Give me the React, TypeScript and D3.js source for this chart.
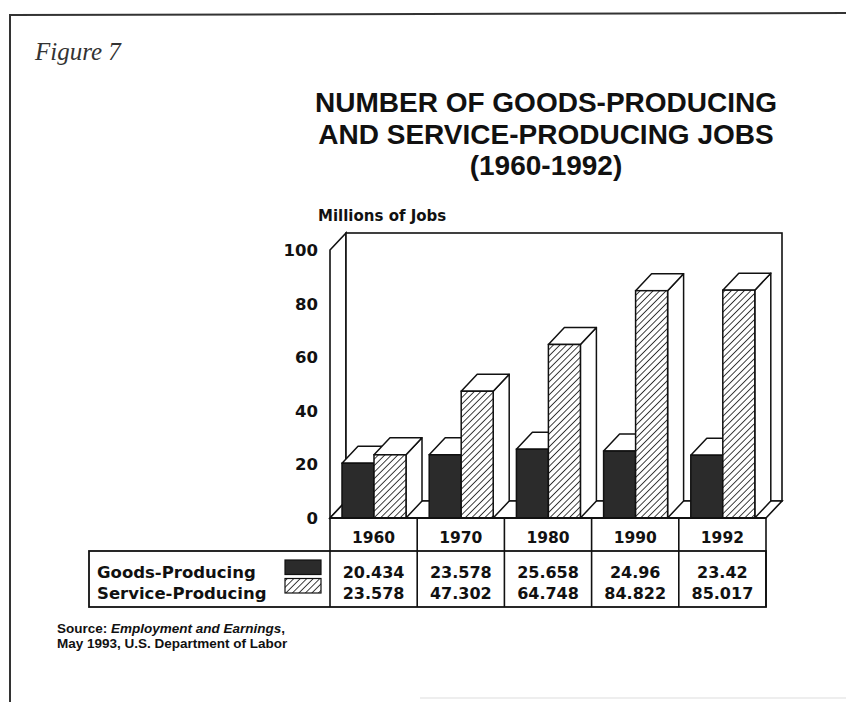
import React from "react";
import * as d3 from "d3";

const years = ["1960", "1970", "1980", "1990", "1992"];
const seriesNames = ["Goods-Producing", "Service-Producing"];
const goodsValues = [20.434, 23.578, 25.658, 24.96, 23.42];
const serviceValues = [23.578, 47.302, 64.748, 84.822, 85.017];
const yTicks = [0, 20, 40, 60, 80, 100];
const titleLines = ["NUMBER OF GOODS-PRODUCING", "AND SERVICE-PRODUCING JOBS", "(1960-1992)"];

const W = 846;
const H = 702;
const DX = 16;
const DY = -17;
const SANS = "'DejaVu Sans', sans-serif";

export default function App() {
  const y = d3.scaleLinear().domain([0, 100]).range([518, 250]);
  const x = d3.scaleBand<string>().domain(years).range([330, 766]).paddingInner(0).paddingOuter(0);
  const inner = d3.scaleBand<string>().domain(seriesNames).range([12, 76]).paddingInner(0);
  const bw = inner.bandwidth();
  const y0 = y(0);
  const yTop = y(100);
  const xL = x.range()[0];
  const xR = x.range()[1];

  const pts = (arr: [number, number][]) => arr.map((p) => p.join(",")).join(" ");

  const bar = (key: string, x0: number, v: number, fill: string) => {
    const yv = y(v);
    return (
      <g key={key}>
        <polygon
          points={pts([[x0 + bw, yv], [x0 + bw + DX, yv + DY], [x0 + bw + DX, y0 + DY], [x0 + bw, y0]])}
          fill="#fff" stroke="#111" strokeWidth={1.5} strokeLinejoin="round"
        />
        <polygon
          points={pts([[x0, yv], [x0 + bw, yv], [x0 + bw + DX, yv + DY], [x0 + DX, yv + DY]])}
          fill="#fff" stroke="#111" strokeWidth={1.5} strokeLinejoin="round"
        />
        <rect x={x0} y={yv} width={bw} height={y0 - yv} fill={fill} stroke="#111" strokeWidth={1.5} />
      </g>
    );
  };

  const rowTop = 551;
  const rowBottom = 607;
  const tableLeft = 89;
  const colEdges = [xL, ...years.map((yr) => (x(yr) as number) + x.bandwidth())];

  return (
    <svg width={W} height={H} style={{ position: "absolute", left: 0, top: 0, background: "#fff" }}>
      <defs>
        <pattern id="hatch" patternUnits="userSpaceOnUse" width={4.6} height={4.6} patternTransform="rotate(45)">
          <rect width={4.6} height={4.6} fill="#fff" />
          <line x1={0} y1={0} x2={0} y2={4.6} stroke="#111" strokeWidth={1.6} />
        </pattern>
      </defs>

      {/* page frame */}
      <line x1={10} y1={15} x2={846} y2={13} stroke="#333" strokeWidth={2} />
      <line x1={10} y1={14} x2={10} y2={702} stroke="#333" strokeWidth={2} />
      <line x1={420} y1={698} x2={846} y2={698} stroke="#ddd" strokeWidth={1} />

      <text x={35} y={60} fontFamily="'Liberation Serif', serif" fontStyle="italic" fontSize={25} fill="#333">
        Figure 7
      </text>

      {titleLines.map((t, i) => (
        <text
          key={t}
          x={546}
          y={112 + i * 31.5}
          textAnchor="middle"
          fontFamily="'Liberation Sans', Arial, sans-serif"
          fontWeight="bold"
          fontSize={28}
          fill="#111"
        >
          {t}
        </text>
      ))}

      <text x={318} y={221} fontFamily={SANS} fontWeight="bold" fontSize={15} fill="#111">
        Millions of Jobs
      </text>

      {/* 3D walls */}
      <polygon
        points={pts([[xL, yTop], [xL + DX, yTop + DY], [xL + DX, y0 + DY], [xL, y0]])}
        fill="#fff" stroke="#111" strokeWidth={1.6}
      />
      <rect x={xL + DX} y={yTop + DY} width={xR - xL} height={y0 - yTop} fill="#fff" stroke="#111" strokeWidth={1.6} />
      <polygon
        points={pts([[xL, y0], [xR, y0], [xR + DX, y0 + DY], [xL + DX, y0 + DY]])}
        fill="#fff" stroke="#111" strokeWidth={1.6}
      />

      {yTicks.map((t) => (
        <text key={t} x={318} y={y(t) + 6} textAnchor="end" fontFamily={SANS} fontWeight="bold" fontSize={16.5} fill="#111">
          {t}
        </text>
      ))}

      {years.map((yr, i) => {
        const gx = (x(yr) as number) + (inner(seriesNames[0]) as number);
        const sx = (x(yr) as number) + (inner(seriesNames[1]) as number);
        return (
          <g key={yr}>
            {bar(yr + "g", gx, goodsValues[i], "#2b2b2b")}
            {bar(yr + "s", sx, serviceValues[i], "url(#hatch)")}
          </g>
        );
      })}

      {/* year row */}
      <line x1={xL} y1={y0} x2={xR} y2={y0} stroke="#111" strokeWidth={1.8} />
      {colEdges.map((cx, i) => (
        <line key={"c" + i} x1={cx} y1={y0} x2={cx} y2={rowBottom} stroke="#111" strokeWidth={1.6} />
      ))}
      {years.map((yr) => (
        <text
          key={"yl" + yr}
          x={(x(yr) as number) + x.bandwidth() / 2}
          y={543}
          textAnchor="middle"
          fontFamily={SANS}
          fontWeight="bold"
          fontSize={15.5}
          fill="#111"
        >
          {yr}
        </text>
      ))}

      {/* data table */}
      <rect x={tableLeft} y={rowTop} width={xR - tableLeft} height={rowBottom - rowTop} fill="none" stroke="#111" strokeWidth={1.8} />
      {seriesNames.map((s, r) => (
        <g key={s}>
          <text x={97} y={578 + r * 21} fontFamily={SANS} fontWeight="bold" fontSize={16.5} fill="#111">
            {s}
          </text>
          <rect
            x={285}
            y={560 + r * 18.5}
            width={36}
            height={14.5}
            fill={r === 0 ? "#2b2b2b" : "url(#hatch)"}
            stroke="#111"
            strokeWidth={1.2}
          />
          {years.map((yr, i) => (
            <text
              key={yr}
              x={(x(yr) as number) + x.bandwidth() / 2}
              y={578 + r * 21}
              textAnchor="middle"
              fontFamily={SANS}
              fontWeight="bold"
              fontSize={16}
              fill="#111"
            >
              {String((r === 0 ? goodsValues : serviceValues)[i])}
            </text>
          ))}
        </g>
      ))}

      <text x={57} y={633} fontFamily="'Liberation Sans', Arial, sans-serif" fontWeight="bold" fontSize={13.5} fill="#111">
        Source: <tspan fontStyle="italic">Employment and Earnings</tspan>,
      </text>
      <text x={57} y={648} fontFamily="'Liberation Sans', Arial, sans-serif" fontWeight="bold" fontSize={13.5} fill="#111">
        May 1993, U.S. Department of Labor
      </text>
    </svg>
  );
}
